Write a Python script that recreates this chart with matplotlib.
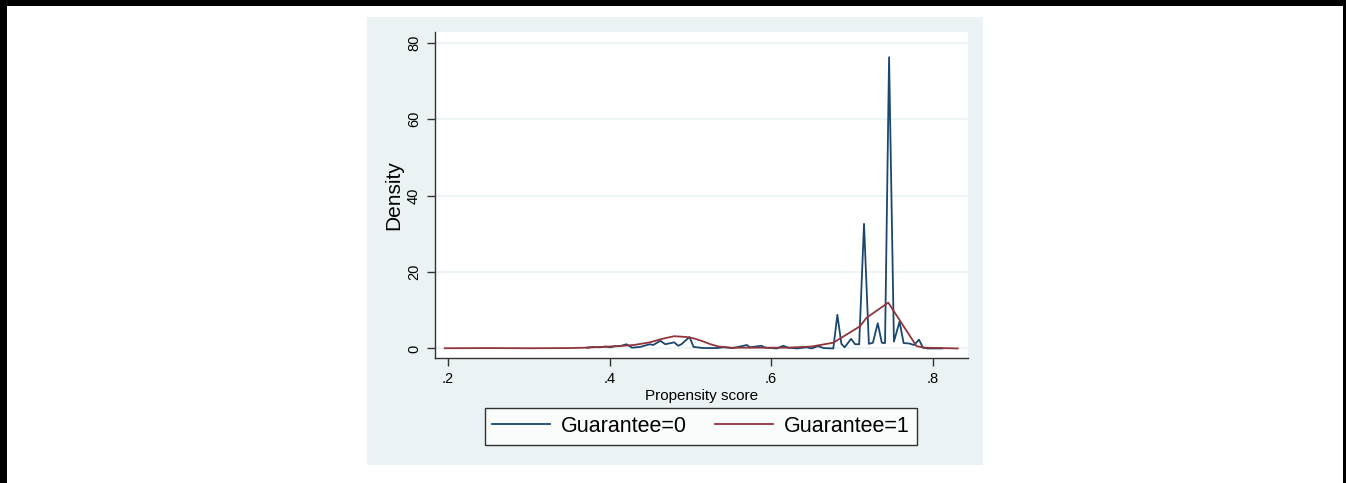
import numpy as np
import matplotlib.pyplot as plt
from matplotlib.patches import Rectangle

plt.rcParams['font.family'] = ['Liberation Sans', 'DejaVu Sans']

# Guarantee=0 density
x_g0 = [0.372, 0.380, 0.388, 0.395, 0.401, 0.407, 0.413, 0.421, 0.428, 0.438, 0.450,
        0.454, 0.463, 0.469, 0.480, 0.485, 0.489, 0.499, 0.504, 0.516, 0.533, 0.541,
        0.553, 0.570, 0.574, 0.588, 0.593, 0.607, 0.615, 0.621, 0.632, 0.644, 0.650,
        0.658, 0.665, 0.677, 0.682, 0.687, 0.691, 0.699, 0.704, 0.709, 0.715, 0.721,
        0.726, 0.732, 0.737, 0.741, 0.746, 0.752, 0.759, 0.764, 0.771, 0.777, 0.783,
        0.788, 0.794, 0.812]
y_g0 = [0.2, 0.4, 0.3, 0.5, 0.3, 0.6, 0.6, 1.1, 0.2, 0.4, 1.1,
        0.9, 2.0, 1.1, 1.6, 0.7, 1.1, 3.0, 0.4, 0.1, 0.1, 0.3,
        0.1, 0.9, 0.3, 0.7, 0.2, 0.0, 0.7, 0.2, 0.0, 0.3, 0.0,
        0.6, 0.1, 0.0, 8.8, 1.2, 0.3, 2.5, 1.1, 1.1, 32.6, 1.2,
        1.5, 6.6, 1.5, 1.4, 76.2, 1.8, 7.0, 1.4, 1.3, 0.9, 2.3,
        0.2, 0.0, 0.0]

# Guarantee=1 density
x_g1 = [0.196, 0.25, 0.30, 0.35, 0.37, 0.39, 0.41, 0.43, 0.45, 0.465, 0.48, 0.495,
        0.505, 0.515, 0.525, 0.535, 0.55, 0.58, 0.62, 0.65, 0.677, 0.710, 0.718,
        0.745, 0.780, 0.790, 0.831]
y_g1 = [0.05, 0.1, 0.05, 0.1, 0.2, 0.4, 0.6, 0.9, 1.6, 2.5, 3.2, 3.0,
        2.6, 1.9, 1.1, 0.5, 0.2, 0.2, 0.2, 0.5, 1.5, 5.8, 8.0,
        12.0, 0.6, 0.2, 0.0]

xticks = [0.2, 0.4, 0.6, 0.8]
xticklabels = ['.2', '.4', '.6', '.8']
yticks = [0, 20, 40, 60, 80]

W, H = 1346, 483
fig = plt.figure(figsize=(W / 100, H / 100), dpi=100)
fig.patch.set_facecolor('white')

# stata graph region
fig.patches.append(Rectangle((367 / W, 1 - 465 / H), (983 - 367) / W, (465 - 17) / H,
                             transform=fig.transFigure, facecolor='#EAF2F3',
                             edgecolor='none', zorder=-2))
# black frame of the screenshot
for (x0, y0, w, h) in [(0, 0, 7, H), (1343, 0, 3, H), (0, 0, W, 6)]:
    fig.patches.append(Rectangle((x0 / W, 1 - (y0 + h) / H), w / W, h / H,
                                 transform=fig.transFigure, facecolor='black',
                                 edgecolor='none', zorder=-2))

ax = fig.add_axes([435 / W, 1 - 358 / H, (968 - 435) / W, (358 - 32) / H])
ax.set_zorder(2)
ax.set_facecolor('white')

ax.plot(x_g0, y_g0, color='#1A476F', lw=1.3, label='Guarantee=0', zorder=3)
ax.plot(x_g1, y_g1, color='#90353B', lw=1.3, label='Guarantee=1', zorder=3)

ax.set_xlim(0.184, 0.8437)
ax.set_ylim(-2.5, 82.8)
ax.set_xticks(xticks)
ax.set_xticklabels(xticklabels)
ax.set_yticks(yticks)
ax.set_yticklabels([str(v) for v in yticks], rotation=90, va='center')
ax.grid(axis='y', color='#EAF2F3', lw=1.2, zorder=1)
ax.set_axisbelow(True)

for s in ['top', 'right']:
    ax.spines[s].set_visible(False)
for s in ['left', 'bottom']:
    ax.spines[s].set_color('#333333')
    ax.spines[s].set_linewidth(1.0)
ax.tick_params(direction='out', length=6, width=1, color='#333333',
               labelsize=10.5, pad=4)

ax.set_ylabel('Density', fontsize=15, labelpad=3)
ax.set_xlabel('Propensity score', fontsize=11, labelpad=2)

leg = fig.legend(loc='center', bbox_to_anchor=((482 + 920) / 2 / W, 1 - 426.5 / H),
                 ncol=2, fontsize=15.5, frameon=True, fancybox=False,
                 edgecolor='black', handlelength=2.7, handletextpad=0.5,
                 columnspacing=1.3, borderpad=0.35, borderaxespad=0)
leg.set_zorder(3)
leg.get_frame().set_linewidth(1.0)
for line in leg.get_lines():
    line.set_linewidth(1.3)

fig.savefig('out.png', dpi=100)
